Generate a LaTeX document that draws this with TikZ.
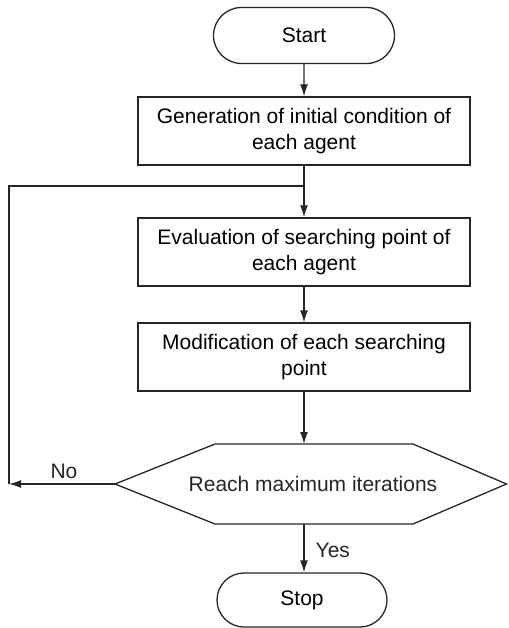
\documentclass[tikz,border=0pt]{standalone}
\usepackage{fontspec}
\setmainfont{Liberation Sans}
\usetikzlibrary{arrows.meta,shapes.misc}
\begin{document}
\begin{tikzpicture}[x=1pt,y=-1pt, line width=1.3pt,
  font=\fontsize{21}{25.5}\selectfont,
  ln/.style={draw=black!85},
  term/.style={draw=black!85, rounded rectangle, minimum width=#1, minimum height=56pt, inner sep=0pt},
  stepbox/.style={draw=black!85, minimum width=332pt, minimum height=68pt, align=center, inner sep=0pt},
  arr/.style={ln, -{Latex[length=12pt,width=8pt]}},
  lbl/.style={text=black!85, inner sep=0pt}]
\useasboundingbox (0,0) rectangle (508,628);
\node[term=181pt] (start) at (304,35.5) {Start};
\node[stepbox] (b1) at (304,131) {Generation of initial condition of\\each agent};
\node[stepbox] (b2) at (304,252) {Evaluation of searching point of\\each agent};
\node[stepbox] (b3) at (304,357) {Modification of each searching\\point};
\draw[ln] (115,484) -- (215,444) -- (413,444) -- (506.5,484) -- (413,524) -- (215,524) -- cycle;
\node[lbl] (dec) at (313,484) {Reach maximum iterations};
\coordinate (hexTop) at (304,444);
\coordinate (hexBot) at (304,524);
\coordinate (hexLeft) at (115,484);
\coordinate (loopL) at (9,484);
\coordinate (loopTL) at (9,186);
\coordinate (join) at (304,186);
\node[term=170pt, minimum height=54pt] (stop) at (302,600) {Stop};
\draw[arr] (start) -- (b1);
\draw[arr] (b1) -- (b2);
\draw[arr] (b2) -- (b3);
\draw[arr] (b3) -- (hexTop);
\draw[arr] (hexBot) -- (hexBot |- stop.north);
\draw[arr] (hexLeft) -- (loopL);
\draw[ln] (loopL) -- (loopTL) -- (join);
\node[lbl] (no) at (64,471) {No};
\node[lbl, anchor=west] (yes) at (315,550) {Yes};
\end{tikzpicture}
\end{document}
